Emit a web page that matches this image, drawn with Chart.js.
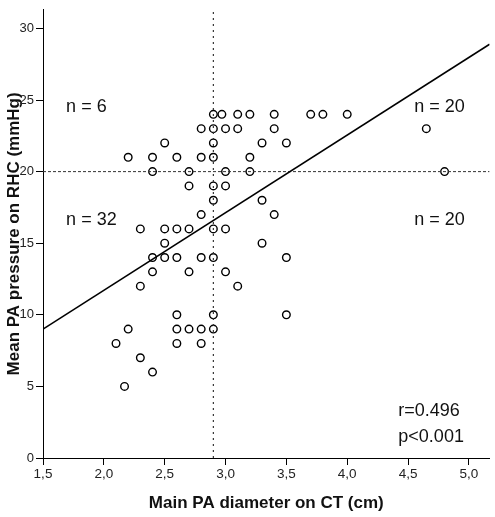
<!DOCTYPE html>
<html>
<head>
<meta charset="utf-8">
<script src="https://cdn.jsdelivr.net/npm/chart.js@4/dist/chart.umd.min.js"></script>
<style>
html, body { margin: 0; padding: 0; background: #fff; }
</style>
</head>
<body>
<canvas id="chart" width="495" height="517"></canvas>
<script>
// DATA
const diameterCm = [
    2.9, 2.97, 3.1, 3.2, 3.4, 3.7, 3.8, 4.0,
    2.8, 2.9, 3.0, 3.1, 3.4, 4.65,
    2.5, 2.9, 3.3, 3.5,
    2.2, 2.4, 2.6, 2.8, 2.9, 3.2,
    2.4, 2.7, 3.0, 3.2, 4.8,
    2.7, 2.9, 3.0,
    2.9, 3.3,
    2.8, 3.4,
    2.3, 2.5, 2.6, 2.7, 2.9, 3.0,
    2.5, 3.3,
    2.4, 2.5, 2.6, 2.8, 2.9, 3.5,
    2.4, 2.7, 3.0,
    2.3, 3.1,
    2.6, 2.9, 3.5,
    2.2, 2.6, 2.7, 2.8, 2.9,
    2.1, 2.6, 2.8,
    2.3,
    2.4,
    2.17
];
const pressureMmHg = [
    24, 24, 24, 24, 24, 24, 24, 24,
    23, 23, 23, 23, 23, 23,
    22, 22, 22, 22,
    21, 21, 21, 21, 21, 21,
    20, 20, 20, 20, 20,
    19, 19, 19,
    18, 18,
    17, 17,
    16, 16, 16, 16, 16, 16,
    15, 15,
    14, 14, 14, 14, 14, 14,
    13, 13, 13,
    12, 12,
    10, 10, 10,
    9, 9, 9, 9, 9,
    8, 8, 8,
    7,
    6,
    5
];

const xTicks = [1.5, 2.0, 2.5, 3.0, 3.5, 4.0, 4.5, 5.0];
const yTicks = [0, 5, 10, 15, 20, 25, 30];
const xMin = 1.5, xMax = 5.17;
const yMin = 0, yMax = 31.3;

// regression line y = a + b*x
const fitIntercept = 0.87;
const fitSlope = 5.42;

// cut-offs
const diameterCut = 2.9;
const pressureCut = 20;

const notes = [
    { text: 'n = 6',   x: 1.69, y: 24.5 },
    { text: 'n = 32',  x: 1.69, y: 16.6 },
    { text: 'n = 20',  x: 4.55, y: 24.5 },
    { text: 'n = 20',  x: 4.55, y: 16.6 },
    { text: 'r=0.496', x: 4.42, y: 3.3 },
    { text: 'p<0.001', x: 4.42, y: 1.45 }
];

const FONT = "'Liberation Sans', Arial, sans-serif";

const points = diameterCm.map((x, i) => ({ x: x, y: pressureMmHg[i] }));

// ANNOTATIONS
const notePlugin = {
    id: 'notes',
    afterDatasetsDraw(chart) {
        const ctx = chart.ctx;
        const xs = chart.scales.x, ys = chart.scales.y;
        ctx.save();
        ctx.fillStyle = '#111';
        ctx.font = '18px ' + FONT;
        ctx.textAlign = 'left';
        ctx.textBaseline = 'middle';
        notes.forEach(n => {
            ctx.fillText(n.text, xs.getPixelForValue(n.x), ys.getPixelForValue(n.y));
        });
        ctx.restore();
    }
};

new Chart(document.getElementById('chart'), {
    type: 'scatter',
    data: {
        datasets: [
            {
                data: [{ x: xMin, y: fitIntercept + fitSlope * xMin },
                       { x: xMax, y: fitIntercept + fitSlope * xMax }],
                showLine: true,
                borderColor: '#000',
                borderWidth: 1.6,
                pointRadius: 0
            },
            {
                data: [{ x: xMin, y: pressureCut }, { x: xMax, y: pressureCut }],
                showLine: true,
                borderColor: '#333',
                borderWidth: 1,
                borderDash: [3, 2],
                pointRadius: 0
            },
            {
                data: [{ x: diameterCut, y: yMin }, { x: diameterCut, y: yMax }],
                showLine: true,
                borderColor: '#333',
                borderWidth: 1.2,
                borderDash: [2, 4],
                pointRadius: 0
            },
            {
                data: points,
                pointRadius: 3.8,
                pointBorderWidth: 1.4,
                pointBorderColor: '#000',
                pointBackgroundColor: 'rgba(0,0,0,0)'
            }
        ]
    },
    options: {
        responsive: false,
        animation: false,
        devicePixelRatio: 1,
        layout: { padding: { top: 2, right: 5, left: 0, bottom: 0 } },
        plugins: {
            legend: { display: false },
            tooltip: { enabled: false }
        },
        scales: {
            x: {
                type: 'linear',
                min: xMin,
                max: xMax,
                afterBuildTicks: s => { s.ticks = xTicks.map(v => ({ value: v })); },
                afterFit: s => { s.height = 59; },
                grid: { drawOnChartArea: false, drawTicks: true, tickLength: 7, color: '#000' },
                border: { display: true, color: '#000', width: 1 },
                ticks: {
                    color: '#222',
                    font: { family: FONT, size: 13.5 },
                    padding: 1,
                    maxRotation: 0,
                    autoSkip: false,
                    callback: v => v.toFixed(1).replace('.', ',')
                },
                title: {
                    display: true,
                    text: 'Main PA diameter on CT (cm)',
                    color: '#111',
                    font: { family: FONT, size: 17, weight: 'bold' },
                    padding: { top: 0, bottom: 3 }
                }
            },
            y: {
                type: 'linear',
                min: yMin,
                max: yMax,
                afterBuildTicks: s => { s.ticks = yTicks.map(v => ({ value: v })); },
                afterFit: s => { s.width = 43; },
                grid: { drawOnChartArea: false, drawTicks: true, tickLength: 7, color: '#000' },
                border: { display: true, color: '#000', width: 1 },
                ticks: {
                    color: '#222',
                    font: { family: FONT, size: 13 },
                    padding: 2,
                    autoSkip: false
                },
                title: {
                    display: true,
                    text: 'Mean PA pressure on RHC (mmHg)',
                    color: '#111',
                    font: { family: FONT, size: 17, weight: 'bold' },
                    padding: { top: 4, bottom: 0 }
                }
            }
        }
    },
    plugins: [notePlugin]
});
</script>
</body>
</html>
